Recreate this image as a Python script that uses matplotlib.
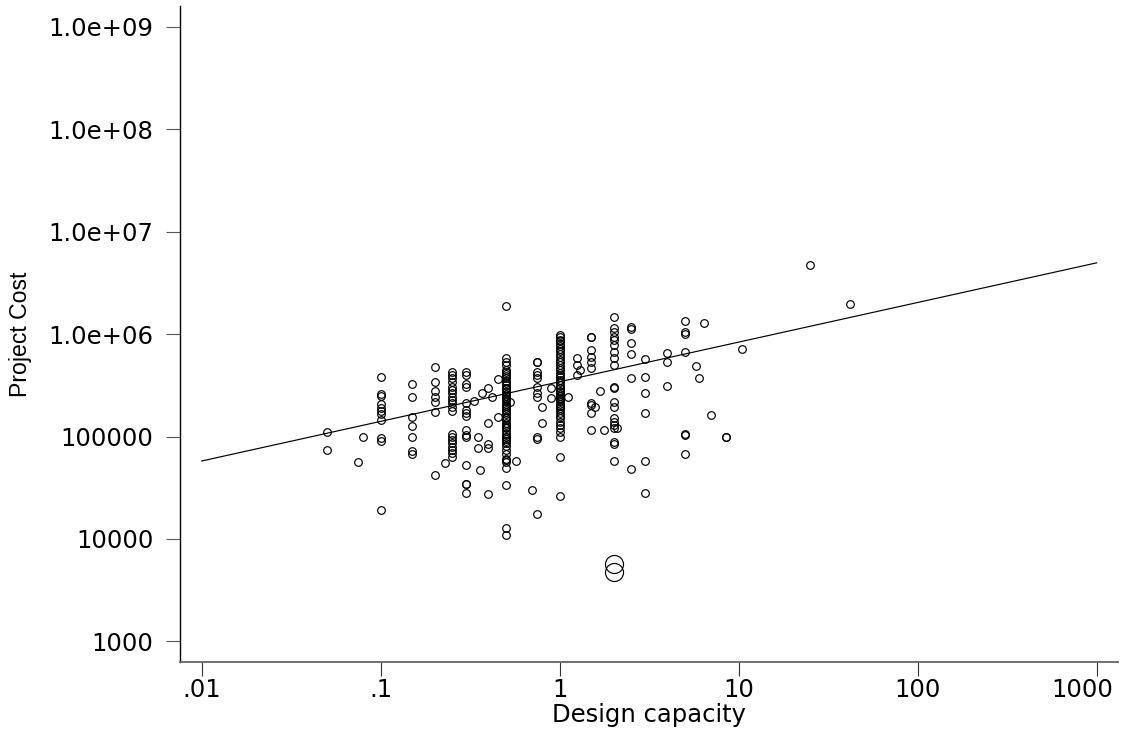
import matplotlib

matplotlib.use("Agg")
import matplotlib.pyplot as plt
import matplotlib.transforms as mtransforms
import numpy as np

plt.rcParams["font.family"] = ["DejaVu Sans"]

# Design capacity levels and the project costs recorded at each level
capacity_levels = [
    0.05, 0.075, 0.08, 0.1, 0.15, 0.2, 0.23, 0.25, 0.3, 0.33, 0.35, 0.36,
    0.37, 0.4, 0.42, 0.45, 0.5, 0.53, 0.57, 0.7, 0.75, 0.8, 0.9, 1.0,
    1.12, 1.25, 1.3, 1.5, 1.58, 1.68, 1.77, 2.0, 2.1, 2.5, 3.0, 4.0, 5.0,
    5.8, 6.0, 6.4, 7.0, 8.5, 10.5, 25.0, 42.0,
]
cost_by_level = [
    [110000, 74000],
    [57000],
    [98000],
    [384000, 258000, 250000, 206000, 188000, 177000, 166000, 145000,
     96000, 90000, 19100],
    [326000, 245000, 156000, 127000, 99500, 72000, 67500],
    [474000, 338000, 280000, 245000, 219000, 172000, 42000],
    [54700],
    [430000, 398000, 370000, 343000, 306000, 284000, 264000, 245000,
     227000, 211000, 196000, 179000, 106000, 99500, 92500, 86000, 79500,
     74000, 68500, 63500],
    [430000, 398000, 323000, 306000, 211000, 181000, 171000, 158000,
     116000, 103000, 99500, 52300, 34400, 34000, 27900],
    [223000],
    [99500, 76700],
    [47100],
    [264000],
    [300000, 136000, 84000, 78000, 27300],
    [245000],
    [362000, 156000],
    [1880000, 580000, 540000, 500000, 450000, 430000, 410000, 390000,
     370000, 350000, 335000, 320000, 300000, 300000, 290000, 275000,
     260000, 250000, 250000, 240000, 230000, 220000, 210000, 200000,
     200000, 190000, 180000, 175000, 165000, 155000, 150000, 145000,
     135000, 130000, 125000, 120000, 112000, 105000, 100000, 100000,
     95000, 90000, 86000, 80000, 74000, 68000, 61000, 59000, 57000,
     49000, 33600, 12700, 10900],
    [219000],
    [58000],
    [30000],
    [537000, 530000, 430000, 398000, 370000, 306000, 264000, 245000,
     99500, 94000, 17500],
    [193000, 136000],
    [296000, 236000],
    [980000, 930000, 880000, 850000, 800000, 760000, 720000, 680000,
     640000, 600000, 560000, 530000, 500000, 470000, 450000, 420000,
     400000, 380000, 360000, 340000, 320000, 300000, 300000, 280000,
     270000, 260000, 250000, 250000, 240000, 230000, 220000, 210000,
     200000, 200000, 190000, 180000, 170000, 160000, 150000, 140000,
     130000, 120000, 110000, 100000, 63500, 26200],
    [245000],
    [580000, 499000, 398000],
    [446000],
    [943000, 930000, 700000, 601000, 537000, 463000, 211000, 205000,
     169000, 117000],
    [196000],
    [280000],
    [117000],
    [1480000, 1140000, 1060000, 943000, 875000, 783000, 673000, 580000,
     499000, 306000, 300000, 219000, 196000, 151000, 140000, 129000,
     120000, 88900, 84500, 57700],
    [120000],
    [1180000, 1110000, 813000, 640000, 370000, 48200],
    [571000, 384000, 264000, 169000, 58000, 28300],
    [649000, 537000, 311000],
    [1350000, 1050000, 996000, 673000, 105000, 103000, 67500],
    [491000],
    [370000],
    [1290000],
    [162000],
    [100000, 99000],
    [720000],
    [4700000],
    [1950000],
]

# two heavily weighted projects
weighted_capacity = [2.0, 2.0]
weighted_cost = [5700, 4800]

# fitted log-log line: log10(cost) = intercept + slope * log10(capacity)
fit_intercept = 5.535
fit_slope = 0.387
fit_range = [0.01, 1000]

x_ticks = [0.01, 0.1, 1, 10, 100, 1000]
x_tick_labels = [".01", ".1", "1", "10", "100", "1000"]
y_ticks = [1e3, 1e4, 1e5, 1e6, 1e7, 1e8, 1e9]
y_tick_labels = ["1000", "10000", "100000", "1.0e+06", "1.0e+07",
                 "1.0e+08", "1.0e+09"]


def main() -> None:
    capacity = np.concatenate(
        [[level] * len(costs) for level, costs in zip(capacity_levels, cost_by_level)]
    )
    cost = np.concatenate([np.asarray(costs, dtype=float) for costs in cost_by_level])

    fig = plt.figure(figsize=(11.23, 7.35), dpi=100)
    ax = fig.add_axes([0.1603, 0.0997, 0.8355, 0.8921])
    ax.set_xscale("log")
    ax.set_yscale("log")

    ax.plot(capacity, cost, linestyle="none", marker="o", markersize=5.5,
            markerfacecolor="none", markeredgecolor="black", markeredgewidth=0.85)
    ax.plot(weighted_capacity, weighted_cost, linestyle="none", marker="o",
            markersize=13.0, markerfacecolor="none", markeredgecolor="black",
            markeredgewidth=0.85)

    line_x = np.logspace(np.log10(fit_range[0]), np.log10(fit_range[1]), 50)
    line_y = 10 ** (fit_intercept + fit_slope * np.log10(line_x))
    ax.plot(line_x, line_y, color="black", linewidth=0.85)

    ax.set_xlim(0.007565, 1321)
    ax.set_ylim(632, 1.6e9)
    ax.set_xticks(x_ticks, x_tick_labels)
    ax.set_yticks(y_ticks, y_tick_labels)
    ax.minorticks_off()

    for side in ("top", "right"):
        ax.spines[side].set_visible(False)
    ax.spines["left"].set_color("black")
    ax.spines["left"].set_linewidth(1.0)
    ax.spines["bottom"].set_color("#666666")
    ax.spines["bottom"].set_linewidth(1.3)

    ax.tick_params(axis="x", length=10, width=0.8, color="#333333", pad=2,
                   labelsize=17.5)
    ax.tick_params(axis="y", length=10, width=0.8, color="#555555", pad=9,
                   labelsize=17.5)

    # pull the last x label in so it stays inside the figure
    last_label = ax.get_xticklabels()[-1]
    shift = mtransforms.ScaledTranslation(-0.14, 0, fig.dpi_scale_trans)
    last_label.set_transform(last_label.get_transform() + shift)

    ax.set_xlabel("Design capacity", fontsize=17.5, va="baseline")
    ax.xaxis.set_label_coords(0.5, -0.0915)
    # the vertical label keeps a narrower face so its length stays compact
    ax.set_ylabel("Project Cost", fontsize=16.6, va="baseline",
                  family=["Liberation Sans", "DejaVu Sans"])
    ax.yaxis.set_label_coords(-0.1634, 0.5)

    fig.savefig("out.png", dpi=100)
    plt.close(fig)


if __name__ == "__main__":
    main()
